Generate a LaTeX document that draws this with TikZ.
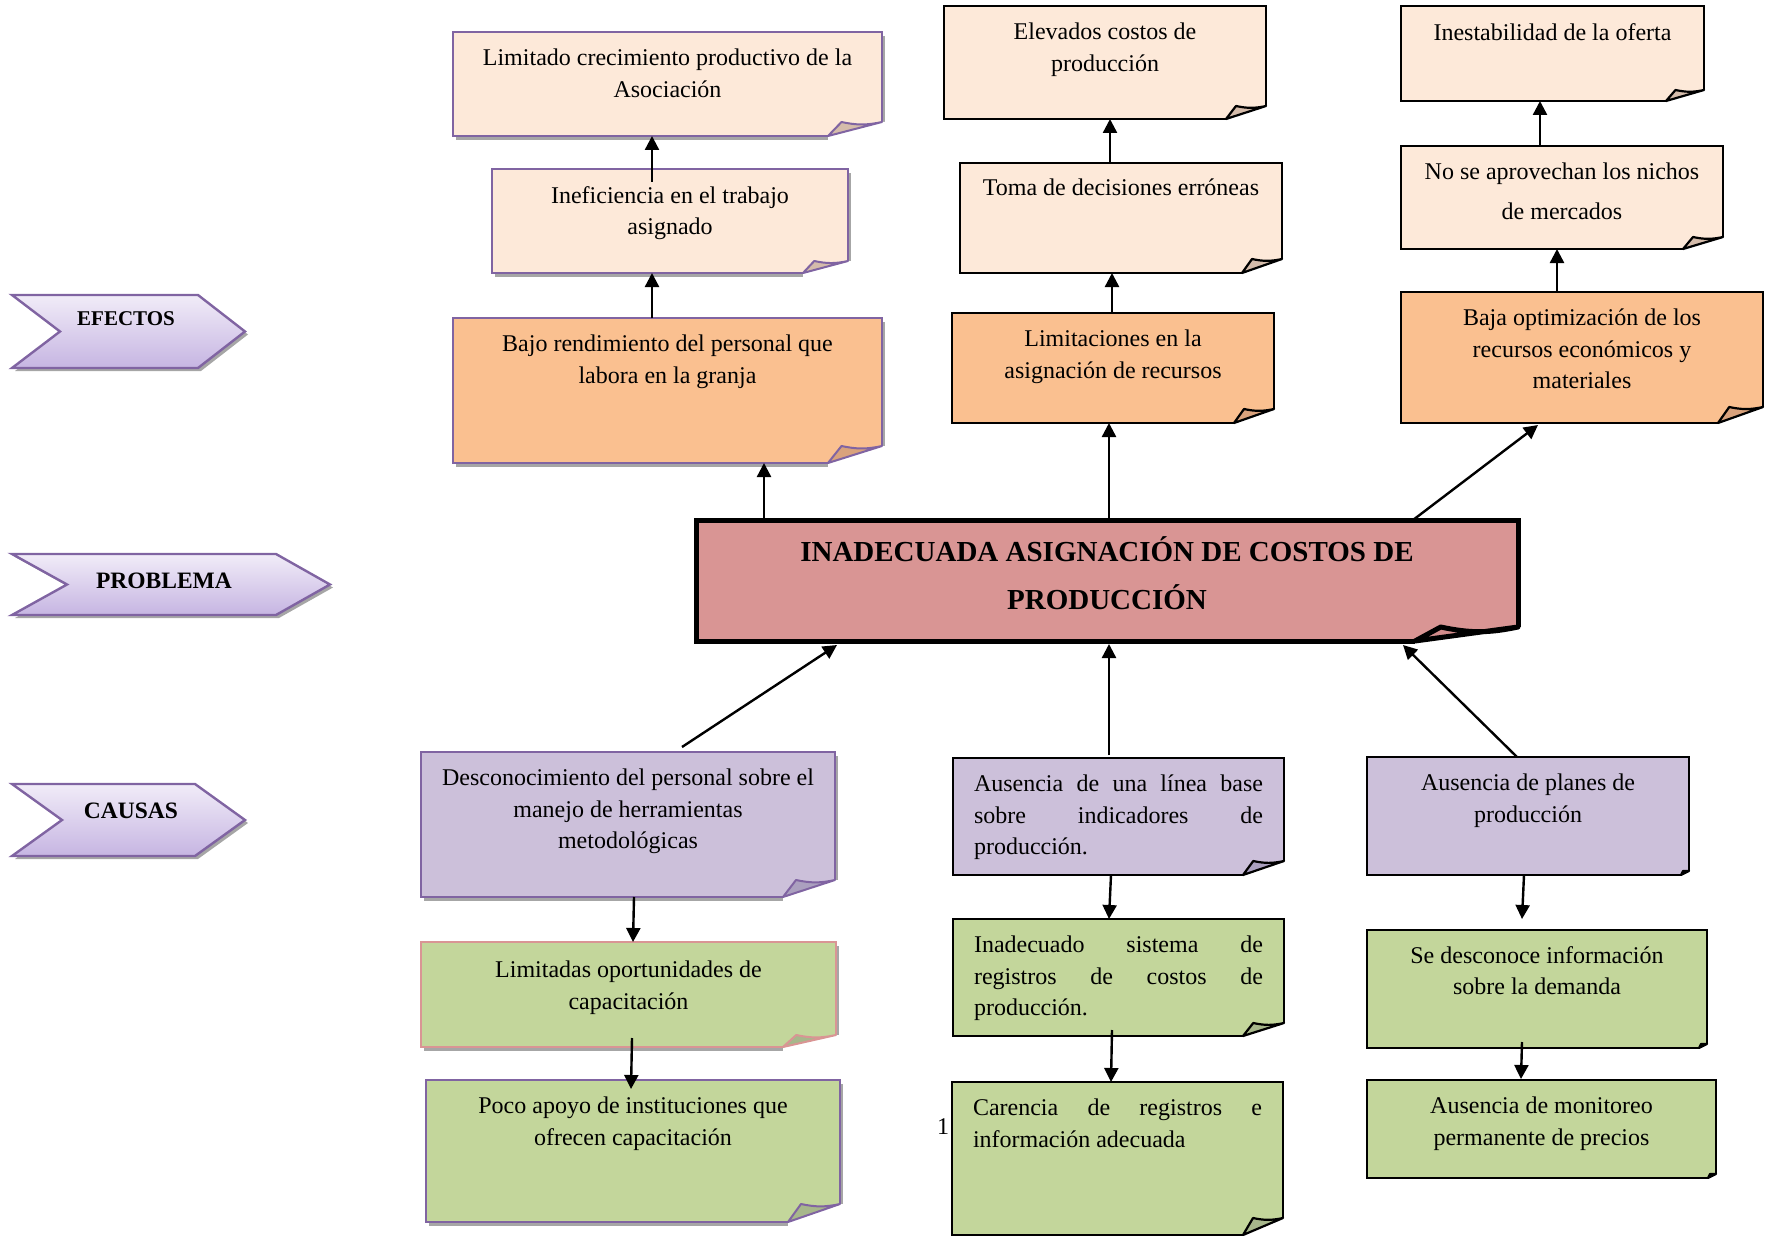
\documentclass[tikz,border=0pt]{standalone}
\usepackage{fontspec}
\setmainfont{Liberation Serif}
\usetikzlibrary{arrows.meta, shadows}

\definecolor{peachL}{HTML}{FDE9D9}
\definecolor{peachD}{HTML}{FAC090}
\definecolor{probRed}{HTML}{D99594}
\definecolor{lilac}{HTML}{CCC0DA}
\definecolor{sage}{HTML}{C3D69B}
\definecolor{violetLine}{HTML}{8064A2}
\definecolor{chevTop}{HTML}{F1ECF8}
\definecolor{chevBot}{HTML}{C6B5E2}
\definecolor{foldPeach}{HTML}{D5BCAB}
\definecolor{foldOrange}{HTML}{D9A27C}
\definecolor{foldLilac}{HTML}{ABA0BF}
\definecolor{foldSage}{HTML}{A7B78B}
\definecolor{foldRed}{HTML}{D28C8B}

% page curl at the lower right corner of a sheet: node, width, height, fill
\newcommand{\curl}[5][]{%
  \fill[white] (#2.south east) ++(-#3,0) -- ++(#3,-#4) -- ++(9,0) -- ++(0,#4+9) -- ++(-#3-9,0) -- cycle;
  \filldraw[fill=#5, line join=round, #1] (#2.south east) ++(-#3,0) -- ++(0.25*#3,-#4) to[bend right=12] ++(0.75*#3,0) -- cycle;
}

\begin{document}
\begin{tikzpicture}[x=1pt, y=-1pt,
    sheet/.style={rectangle, draw, line width=2.2pt, inner sep=0pt, outer sep=0pt},
    purpleedge/.style={draw=violetLine, line width=2pt, drop shadow={shadow xshift=3pt, shadow yshift=-4pt, fill=black!35, opacity=1}},
    txt/.style={anchor=north, inner sep=0pt, align=center, yshift=#1, font=\fontsize{24}{31.5}\selectfont, execute at begin node=\strut},
    txt/.default=-17pt,
    arr/.style={-{Triangle[length=14pt, width=14pt]}, line width=2.4pt},
    chev/.style={draw=violetLine, line width=2.4pt, line join=miter, top color=chevTop, bottom color=chevBot, drop shadow={shadow xshift=3pt, shadow yshift=-3pt, fill=black!35, opacity=1}},
    tag/.style={anchor=base, inner sep=0pt, font=\fontsize{23.5}{28}\selectfont\bfseries}
  ]
  \useasboundingbox (0,0) rectangle (1765,1236);

  % row labels
  \draw[chev] (12,295) -- (198,295) -- (245,331.5) -- (198,368) -- (12,368) -- (60,331.5) -- cycle;
  \draw[chev] (12,554) -- (276,554) -- (330,584.5) -- (276,615) -- (12,615) -- (67,584.5) -- cycle;
  \draw[chev] (12,784) -- (195,784) -- (245,820) -- (195,856) -- (12,856) -- (62,820) -- cycle;
  \node[tag, font=\fontsize{21}{26}\selectfont\bfseries] (efectos) at (126,325) {EFECTOS};
  \node[tag] (problema) at (164,588) {PROBLEMA};
  \node[tag] (causas) at (131,818) {CAUSAS};

  % effects
  \node[sheet, purpleedge, fill=peachL, minimum width=429pt, minimum height=104pt] (limCrec) at (667.5,84) {};
  \node[sheet, purpleedge, fill=peachL, minimum width=356pt, minimum height=104pt] (inef) at (670,221) {};
  \node[sheet, purpleedge, fill=peachD, minimum width=429pt, minimum height=145pt] (bajo) at (667.5,390.5) {};
  \node[sheet, fill=peachL, minimum width=322pt, minimum height=113pt] (elev) at (1105,62.5) {};
  \node[sheet, fill=peachL, minimum width=322pt, minimum height=110pt] (toma) at (1121,218) {};
  \node[sheet, fill=peachD, minimum width=322pt, minimum height=110pt] (limit) at (1113,368) {};
  \node[sheet, fill=peachL, minimum width=303pt, minimum height=95pt] (inest) at (1552.5,53.5) {};
  \node[sheet, fill=peachL, minimum width=322pt, minimum height=103pt] (nichos) at (1562,197.5) {};
  \node[sheet, fill=peachD, minimum width=362pt, minimum height=131pt] (bajaOpt) at (1582,357.5) {};

  % problem
  \node[sheet, fill=probRed, line width=5pt, minimum width=822pt, minimum height=121pt] (prob) at (1107,580.5) {};

  % causes
  \node[sheet, purpleedge, fill=lilac, minimum width=414pt, minimum height=145pt] (desc) at (628,824.5) {};
  \node[sheet, purpleedge, draw=probRed, fill=sage, minimum width=415pt, minimum height=105pt] (limOp) at (628.5,994.5) {};
  \node[sheet, purpleedge, fill=sage, minimum width=414pt, minimum height=142pt] (poco) at (633,1151) {};
  \node[sheet, fill=lilac, minimum width=331pt, minimum height=117pt] (ausLinea) at (1118.5,816.5) {};
  \node[sheet, fill=sage, minimum width=331pt, minimum height=117pt] (inadSis) at (1118.5,977.5) {};
  \node[sheet, fill=sage, minimum width=331pt, minimum height=153pt] (carencia) at (1117.5,1158.5) {};
  \node[sheet, fill=lilac, minimum width=322pt, minimum height=118pt] (ausPlan) at (1528,816) {};
  \node[sheet, fill=sage, minimum width=340pt, minimum height=118pt] (seDesc) at (1537,989) {};
  \node[sheet, fill=sage, minimum width=349pt, minimum height=98pt] (ausMon) at (1541.5,1129) {};

  % curled corners
  \curl[draw=violetLine, line width=2pt]{limCrec}{54}{14}{foldPeach}
  \curl[draw=violetLine, line width=2pt]{inef}{45}{12}{foldPeach}
  \curl[draw=violetLine, line width=2pt]{bajo}{54}{17}{foldOrange}
  \curl[line width=2.2pt]{elev}{40}{13}{foldPeach}
  \curl[line width=2.2pt]{toma}{40}{14}{foldPeach}
  \curl[line width=2.2pt]{limit}{40}{14}{foldOrange}
  \curl[line width=2.2pt]{inest}{38}{11}{foldPeach}
  \curl[line width=2.2pt]{nichos}{40}{12}{foldPeach}
  \curl[line width=2.2pt]{bajaOpt}{45}{16}{foldOrange}
  \curl[line width=5pt]{prob}{103}{14}{foldRed}
  \curl[draw=violetLine, line width=2pt]{desc}{52}{17}{foldLilac}
  \curl[draw=probRed, line width=2pt]{limOp}{53}{12}{foldSage}
  \curl[draw=violetLine, line width=2pt]{poco}{52}{18}{foldSage}
  \curl[line width=2.2pt]{ausLinea}{41}{14}{foldLilac}
  \curl[line width=2.2pt]{inadSis}{41}{13}{foldSage}
  \curl[line width=2.2pt]{carencia}{40}{17}{foldSage}
  \curl[line width=2.2pt]{ausPlan}{8}{4}{foldLilac}
  \curl[line width=2.2pt]{seDesc}{8}{4}{foldSage}
  \curl[line width=2.2pt]{ausMon}{8}{4}{foldSage}

  % texts
  \node[txt] (limCrec-t) at (limCrec.north) {Limitado crecimiento productivo de la\\Asociación};
  \node[txt] (inef-t) at (inef.north) {Ineficiencia en el trabajo\\asignado};
  \node[txt] (bajo-t) at (bajo.north) {Bajo rendimiento del personal que\\labora en la granja};
  \node[txt] (elev-t) at (elev.north) {Elevados costos de\\producción};
  \node[txt=-10pt] (toma-t) at (toma.north) {Toma de decisiones erróneas};
  \node[txt] (limit-t) at (limit.north) {Limitaciones en la\\asignación de recursos};
  \node[txt=-12pt] (inest-t) at (inest.north) {Inestabilidad de la oferta};
  \node[txt, font=\fontsize{24}{40}\selectfont] (nichos-t) at (nichos.north) {No se aprovechan los nichos\\de mercados};
  \node[txt] (bajaOpt-t) at (bajaOpt.north) {Baja optimización de los\\recursos económicos y\\materiales};
  \node[txt=-16pt, font=\fontsize{29}{48}\selectfont\bfseries] (prob-t) at (prob.north) {INADECUADA ASIGNACIÓN DE COSTOS DE\\PRODUCCIÓN};
  \node[txt] (desc-t) at (desc.north) {Desconocimiento del personal sobre el\\manejo de herramientas\\metodológicas};
  \node[txt=-19pt] (limOp-t) at (limOp.north) {Limitadas oportunidades de\\capacitación};
  \node[txt] (poco-t) at (poco.north) {Poco apoyo de instituciones que\\ofrecen capacitación};
  \node[txt, align=left] (ausLinea-t) at (ausLinea.north) {\makebox[289pt][s]{Ausencia de una línea base}\\\makebox[289pt][s]{sobre indicadores de}\\producción.};
  \node[txt, align=left] (inadSis-t) at (inadSis.north) {\makebox[289pt][s]{Inadecuado sistema de}\\\makebox[289pt][s]{registros de costos de}\\producción.};
  \node[txt, align=left] (carencia-t) at (carencia.north) {\makebox[289pt][s]{Carencia de registros e}\\información adecuada};
  \node[txt] (ausPlan-t) at (ausPlan.north) {Ausencia de planes de\\producción};
  \node[txt=-16pt] (seDesc-t) at (seDesc.north) {Se desconoce información\\sobre la demanda};
  \node[txt] (ausMon-t) at (ausMon.north) {Ausencia de monitoreo\\permanente de precios};
  \node[inner sep=0pt, font=\fontsize{24}{28}\selectfont] (pagenum) at (943,1127) {1};

  % effects chain
  \draw[arr] ([xshift=-18pt, yshift=-13pt]inef.north) -- ([xshift=-15.5pt]limCrec.south);
  \draw[arr] ([xshift=-15.5pt]bajo.north) -- ([xshift=-18pt]inef.south);
  \draw[arr] ([xshift=-343pt]prob.north) -- ([xshift=96.5pt]bajo.south);
  \draw[arr] ([xshift=-11pt]toma.north) -- ([xshift=5pt]elev.south);
  \draw[arr] ([xshift=-1pt]limit.north) -- ([xshift=-9pt]toma.south);
  \draw[arr] ([xshift=2pt]prob.north) -- ([xshift=-4pt]limit.south);
  \draw[arr] ([xshift=-22pt]nichos.north) -- ([xshift=-12.5pt]inest.south);
  \draw[arr] ([xshift=-25pt]bajaOpt.north) -- ([xshift=-5pt]nichos.south);
  \draw[arr] ([xshift=306pt]prob.north) -- ([xshift=-44pt, yshift=-2pt]bajaOpt.south);

  % causes chain
  \draw[arr] ([xshift=54pt, yshift=5pt]desc.north) -- ([xshift=-270pt, yshift=-4pt]prob.south);
  \draw[arr] ([xshift=-9.5pt, yshift=3pt]ausLinea.north) -- ([xshift=2pt, yshift=-3pt]prob.south);
  \draw[arr] ([xshift=-11pt]ausPlan.north) -- ([xshift=296pt, yshift=-4pt]prob.south);
  \draw[arr] ([xshift=6pt]desc.south) -- ([xshift=4.5pt]limOp.north);
  \draw[arr] ([xshift=3.5pt, yshift=9pt]limOp.south) -- ([xshift=-2pt, yshift=-9pt]poco.north);
  \draw[arr] ([xshift=-7.5pt]ausLinea.south) -- ([xshift=-9.5pt]inadSis.north);
  \draw[arr] ([xshift=-6.5pt, yshift=6pt]inadSis.south) -- ([xshift=-6.5pt]carencia.north);
  \draw[arr] ([xshift=-4pt]ausPlan.south) -- ([xshift=-15pt, yshift=11pt]seDesc.north);
  \draw[arr] ([xshift=-15pt, yshift=6pt]seDesc.south) -- ([xshift=-20.5pt, yshift=1pt]ausMon.north);
\end{tikzpicture}
\end{document}
